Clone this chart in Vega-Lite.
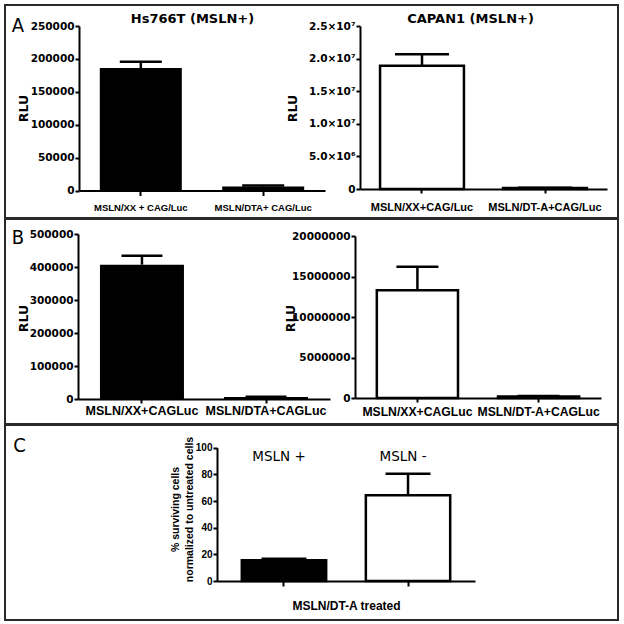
{
  "$schema": "https://vega.github.io/schema/vega-lite/v6.json",
  "background": "white",
  "padding": {"left": 4, "top": 4, "right": 4, "bottom": 0},
  "spacing": -2,
  "config": {
    "font": "Liberation Sans",
    "view": {"stroke": "#2a2a2a", "strokeWidth": 2},
    "axis": {"domainColor": "black", "domainWidth": 2, "tickColor": "black", "tickWidth": 2, "tickSize": 4, "labelColor": "black", "titleColor": "black", "grid": false, "labelFont": "Liberation Sans", "labelFontWeight": "bold", "titleFont": "Liberation Sans", "titleFontWeight": "bold", "labelOverlap": false, "labelAngle": 0},
    "tick": {"opacity": 1}
  },
  "vconcat": [
    {
      "width": 613, "height": 213,
      "resolve": {"scale": {"x": "independent", "y": "independent"}},
      "layer": [
        {
          "data": {"values": [
            {"condition": "MSLN/XX + CAG/Luc", "rlu": 186000, "upper": 195500},
            {"condition": "MSLN/DTA+ CAG/Luc", "rlu": 6000, "upper": 7500}
          ]},
          "resolve": {"axis": {"x": "independent", "y": "independent"}},
          "layer": [
            {"mark": {"type": "bar", "fill": "black"},
             "encoding": {
               "x": {"field": "condition", "type": "nominal", "sort": null, "scale": {"type": "band", "range": [74, 320], "paddingInner": 0.33, "paddingOuter": 0.17},
                     "axis": {"orient": "bottom", "offset": -27.5, "title": null, "labelFontSize": 9.5, "labelPadding": 7, "tickSize": 5, "labelOverlap": false}},
               "y": {"field": "rlu", "type": "quantitative", "scale": {"domain": [0, 250000], "range": [185.5, 21], "nice": false},
                     "axis": {"orient": "left", "offset": -74, "title": "RLU", "values": [0, 50000, 100000, 150000, 200000, 250000], "format": "d", "labelOverlap": false, "labelFont": "DejaVu Sans", "labelFontSize": 10.5, "labelPadding": 1, "titleFont": "DejaVu Sans", "titleFontSize": 12.5, "titleAngle": 270, "titleX": -56, "titleY": 103, "titleAlign": "center", "titleBaseline": "middle"}}
             }},
            {"mark": {"type": "rule", "strokeWidth": 2.5, "color": "black"},
             "encoding": {
               "x": {"field": "condition", "type": "nominal", "sort": null, "scale": {"type": "band", "range": [74, 320], "paddingInner": 0.33, "paddingOuter": 0.17},
                     "axis": {"orient": "top", "offset": 0, "title": "Hs766T (MSLN+)", "domain": false, "ticks": false, "labels": false, "titleFont": "DejaVu Sans", "titleFontSize": 13, "titleX": 187, "titleY": 13, "titleAlign": "center", "titleBaseline": "middle"}},
               "y": {"field": "rlu", "type": "quantitative", "scale": {"domain": [0, 250000], "range": [185.5, 21], "nice": false}, "axis": null},
               "y2": {"field": "upper"}
             }},
            {"mark": {"type": "tick", "thickness": 2.5, "size": 42, "color": "black", "opacity": 1},
             "encoding": {
               "x": {"field": "condition", "type": "nominal", "sort": null, "scale": {"type": "band", "range": [74, 320], "paddingInner": 0.33, "paddingOuter": 0.17}, "axis": null},
               "y": {"field": "upper", "type": "quantitative", "scale": {"domain": [0, 250000], "range": [185.5, 21], "nice": false},
                     "axis": {"orient": "left", "offset": 0, "title": "A", "domain": false, "ticks": false, "labels": false, "titleFont": "Liberation Sans Narrow, DejaVu Sans Condensed, sans-serif", "titleFontSize": 20, "titleFontWeight": "normal", "titleAngle": 0, "titleX": 12.5, "titleY": 20.5, "titleAlign": "center", "titleBaseline": "middle"}}
             }}
          ]
        },
        {
          "data": {"values": [
            {"condition": "MSLN/XX+CAG/Luc", "rlu": 18900000, "upper": 20650000},
            {"condition": "MSLN/DT-A+CAG/Luc", "rlu": 150000, "upper": 200000}
          ]},
          "resolve": {"axis": {"x": "independent", "y": "independent"}},
          "layer": [
            {"mark": {"type": "bar", "fill": "white", "stroke": "black", "strokeWidth": 2.5},
             "encoding": {
               "x": {"field": "condition", "type": "nominal", "sort": null, "scale": {"type": "band", "range": [355, 602], "paddingInner": 0.318, "paddingOuter": 0.163},
                     "axis": {"orient": "bottom", "offset": -29, "title": null, "labelFontSize": 11, "labelPadding": 8, "tickSize": 4, "labelOverlap": false}},
               "y": {"field": "rlu", "type": "quantitative", "scale": {"domain": [0, 25000000], "range": [184, 21], "nice": false},
                     "axis": {"orient": "left", "offset": -355, "title": "RLU", "values": [0, 5000000, 10000000, 15000000, 20000000, 25000000], "labelOverlap": false, "labelExpr": "datum.value == 0 ? '0' : datum.value == 5000000 ? '5.0×10⁶' : format(datum.value / 10000000, '.1f') + '×10⁷'", "labelFont": "DejaVu Sans", "labelFontSize": 10.5, "labelPadding": 1, "titleFont": "DejaVu Sans", "titleFontSize": 12.5, "titleAngle": 270, "titleX": -68, "titleY": 103, "titleAlign": "center", "titleBaseline": "middle"}}
             }},
            {"mark": {"type": "rule", "strokeWidth": 2.5, "color": "black"},
             "encoding": {
               "x": {"field": "condition", "type": "nominal", "sort": null, "scale": {"type": "band", "range": [355, 602], "paddingInner": 0.318, "paddingOuter": 0.163},
                     "axis": {"orient": "top", "offset": 0, "title": "CAPAN1 (MSLN+)", "domain": false, "ticks": false, "labels": false, "titleFont": "DejaVu Sans", "titleFontSize": 13, "titleX": 465, "titleY": 13, "titleAlign": "center", "titleBaseline": "middle"}},
               "y": {"field": "rlu", "type": "quantitative", "scale": {"domain": [0, 25000000], "range": [184, 21], "nice": false}, "axis": null},
               "y2": {"field": "upper"}
             }},
            {"mark": {"type": "tick", "thickness": 2.5, "size": 54, "color": "black", "opacity": 1},
             "encoding": {
               "x": {"field": "condition", "type": "nominal", "sort": null, "scale": {"type": "band", "range": [355, 602], "paddingInner": 0.318, "paddingOuter": 0.163}, "axis": null},
               "y": {"field": "upper", "type": "quantitative", "scale": {"domain": [0, 25000000], "range": [184, 21], "nice": false}, "axis": null}
             }}
          ]
        }
      ]
    },
    {
      "width": 613, "height": 205,
      "resolve": {"scale": {"x": "independent", "y": "independent"}},
      "layer": [
        {
          "data": {"values": [
            {"condition": "MSLN/XX+CAGLuc", "rlu": 407000, "upper": 434000},
            {"condition": "MSLN/DTA+CAGLuc", "rlu": 6000, "upper": 7000}
          ]},
          "resolve": {"axis": {"x": "independent", "y": "independent"}},
          "layer": [
            {"mark": {"type": "bar", "fill": "black"},
             "encoding": {
               "x": {"field": "condition", "type": "nominal", "sort": null, "scale": {"type": "band", "range": [73, 325], "paddingInner": 0.323, "paddingOuter": 0.177},
                     "axis": {"orient": "bottom", "offset": -25, "title": null, "labelFontSize": 12.5, "labelPadding": 1, "tickSize": 4, "labelOverlap": false}},
               "y": {"field": "rlu", "type": "quantitative", "scale": {"domain": [0, 500000], "range": [180, 15], "nice": false},
                     "axis": {"orient": "left", "offset": -73, "title": "RLU", "values": [0, 100000, 200000, 300000, 400000, 500000], "format": "d", "labelOverlap": false, "labelFont": "DejaVu Sans", "labelFontSize": 10.5, "labelPadding": 1, "titleFont": "DejaVu Sans", "titleFontSize": 12.5, "titleAngle": 270, "titleX": -55, "titleY": 99, "titleAlign": "center", "titleBaseline": "middle"}}
             }},
            {"mark": {"type": "rule", "strokeWidth": 2.5, "color": "black"},
             "encoding": {
               "x": {"field": "condition", "type": "nominal", "sort": null, "scale": {"type": "band", "range": [73, 325], "paddingInner": 0.323, "paddingOuter": 0.177}, "axis": null},
               "y": {"field": "rlu", "type": "quantitative", "scale": {"domain": [0, 500000], "range": [180, 15], "nice": false}, "axis": null},
               "y2": {"field": "upper"}
             }},
            {"mark": {"type": "tick", "thickness": 2.5, "size": 41, "color": "black", "opacity": 1},
             "encoding": {
               "x": {"field": "condition", "type": "nominal", "sort": null, "scale": {"type": "band", "range": [73, 325], "paddingInner": 0.323, "paddingOuter": 0.177}, "axis": null},
               "y": {"field": "upper", "type": "quantitative", "scale": {"domain": [0, 500000], "range": [180, 15], "nice": false},
                     "axis": {"orient": "left", "offset": 0, "title": "B", "domain": false, "ticks": false, "labels": false, "titleFont": "Liberation Sans Narrow, DejaVu Sans Condensed, sans-serif", "titleFontSize": 20, "titleFontWeight": "normal", "titleAngle": 0, "titleX": 12.5, "titleY": 18.5, "titleAlign": "center", "titleBaseline": "middle"}}
             }}
          ]
        },
        {
          "data": {"values": [
            {"condition": "MSLN/XX+CAGLuc", "rlu": 13300000, "upper": 16200000},
            {"condition": "MSLN/DT-A+CAGLuc", "rlu": 200000, "upper": 250000}
          ]},
          "resolve": {"axis": {"x": "independent", "y": "independent"}},
          "layer": [
            {"mark": {"type": "bar", "fill": "white", "stroke": "black", "strokeWidth": 2.5},
             "encoding": {
               "x": {"field": "condition", "type": "nominal", "sort": null, "scale": {"type": "band", "range": [350, 596], "paddingInner": 0.33, "paddingOuter": 0.18},
                     "axis": {"orient": "bottom", "offset": -26, "title": null, "labelFontSize": 12.2, "labelPadding": 3, "tickSize": 4, "labelOverlap": false}},
               "y": {"field": "rlu", "type": "quantitative", "scale": {"domain": [0, 20000000], "range": [179, 17], "nice": false},
                     "axis": {"orient": "left", "offset": -350, "title": "RLU", "values": [0, 5000000, 10000000, 15000000, 20000000], "format": "d", "labelOverlap": false, "labelFont": "DejaVu Sans", "labelFontSize": 10.5, "labelPadding": 1, "titleFont": "DejaVu Sans", "titleFontSize": 12.5, "titleAngle": 270, "titleX": -65, "titleY": 99, "titleAlign": "center", "titleBaseline": "middle"}}
             }},
            {"mark": {"type": "rule", "strokeWidth": 2.5, "color": "black"},
             "encoding": {
               "x": {"field": "condition", "type": "nominal", "sort": null, "scale": {"type": "band", "range": [350, 596], "paddingInner": 0.33, "paddingOuter": 0.18}, "axis": null},
               "y": {"field": "rlu", "type": "quantitative", "scale": {"domain": [0, 20000000], "range": [179, 17], "nice": false}, "axis": null},
               "y2": {"field": "upper"}
             }},
            {"mark": {"type": "tick", "thickness": 2.5, "size": 42, "color": "black", "opacity": 1},
             "encoding": {
               "x": {"field": "condition", "type": "nominal", "sort": null, "scale": {"type": "band", "range": [350, 596], "paddingInner": 0.33, "paddingOuter": 0.18}, "axis": null},
               "y": {"field": "upper", "type": "quantitative", "scale": {"domain": [0, 20000000], "range": [179, 17], "nice": false}, "axis": null}
             }}
          ]
        }
      ]
    },
    {
      "width": 613, "height": 195,
      "data": {"values": [
        {"group": "MSLN +", "pct": 15.5, "upper": 16.7},
        {"group": "MSLN -", "pct": 64.3, "upper": 80.5}
      ]},
      "resolve": {"axis": {"x": "independent", "y": "independent"}},
      "layer": [
        {"mark": {"type": "bar", "stroke": "black", "strokeWidth": 2.5},
         "encoding": {
           "x": {"field": "group", "type": "nominal", "sort": null, "scale": {"type": "band", "range": [212, 470], "paddingInner": 0.32, "paddingOuter": 0.2},
                 "axis": {"orient": "bottom", "offset": -39, "title": "MSLN/DT-A treated", "labels": false, "tickSize": 5, "titleFontSize": 12, "titleY": 24, "titleBaseline": "middle"}},
           "y": {"field": "pct", "type": "quantitative", "scale": {"domain": [0, 100], "range": [156, 22.7], "nice": false},
                 "axis": {"orient": "left", "offset": -212, "title": ["% surviving cells", "normalized to untreated cells"], "values": [0, 20, 40, 60, 80, 100], "labelOverlap": false, "labelFontSize": 10, "labelPadding": 1, "tickSize": 4, "titleFontSize": 10.5, "titleLineHeight": 14, "titleAngle": 270, "titleX": -42, "titleY": 84, "titleAlign": "center", "titleBaseline": "middle"}},
           "fill": {"field": "group", "type": "nominal", "scale": {"domain": ["MSLN +", "MSLN -"], "range": ["black", "white"]}, "legend": null}
         }},
        {"mark": {"type": "rule", "strokeWidth": 2.5, "color": "black"},
         "encoding": {
           "x": {"field": "group", "type": "nominal", "sort": null, "axis": null},
           "y": {"field": "pct", "type": "quantitative", "axis": null},
           "y2": {"field": "upper"}
         }},
        {"mark": {"type": "tick", "thickness": 2.5, "size": 45, "color": "black", "opacity": 1},
         "encoding": {
           "x": {"field": "group", "type": "nominal", "sort": null, "axis": null},
           "y": {"field": "upper", "type": "quantitative",
                 "axis": {"orient": "left", "offset": 0, "title": "C", "domain": false, "ticks": false, "labels": false, "titleFont": "Liberation Sans Narrow, DejaVu Sans Condensed, sans-serif", "titleFontSize": 20, "titleFontWeight": "normal", "titleAngle": 0, "titleX": 14, "titleY": 20.5, "titleAlign": "center", "titleBaseline": "middle"}}
         }},
        {"mark": {"type": "text", "font": "DejaVu Sans", "fontSize": 13.5, "color": "black", "dx": -5},
         "encoding": {
           "x": {"field": "group", "type": "nominal", "sort": null, "axis": null},
           "y": {"datum": 93, "type": "quantitative", "axis": null},
           "text": {"field": "group"}
         }}
      ]
    }
  ]
}
